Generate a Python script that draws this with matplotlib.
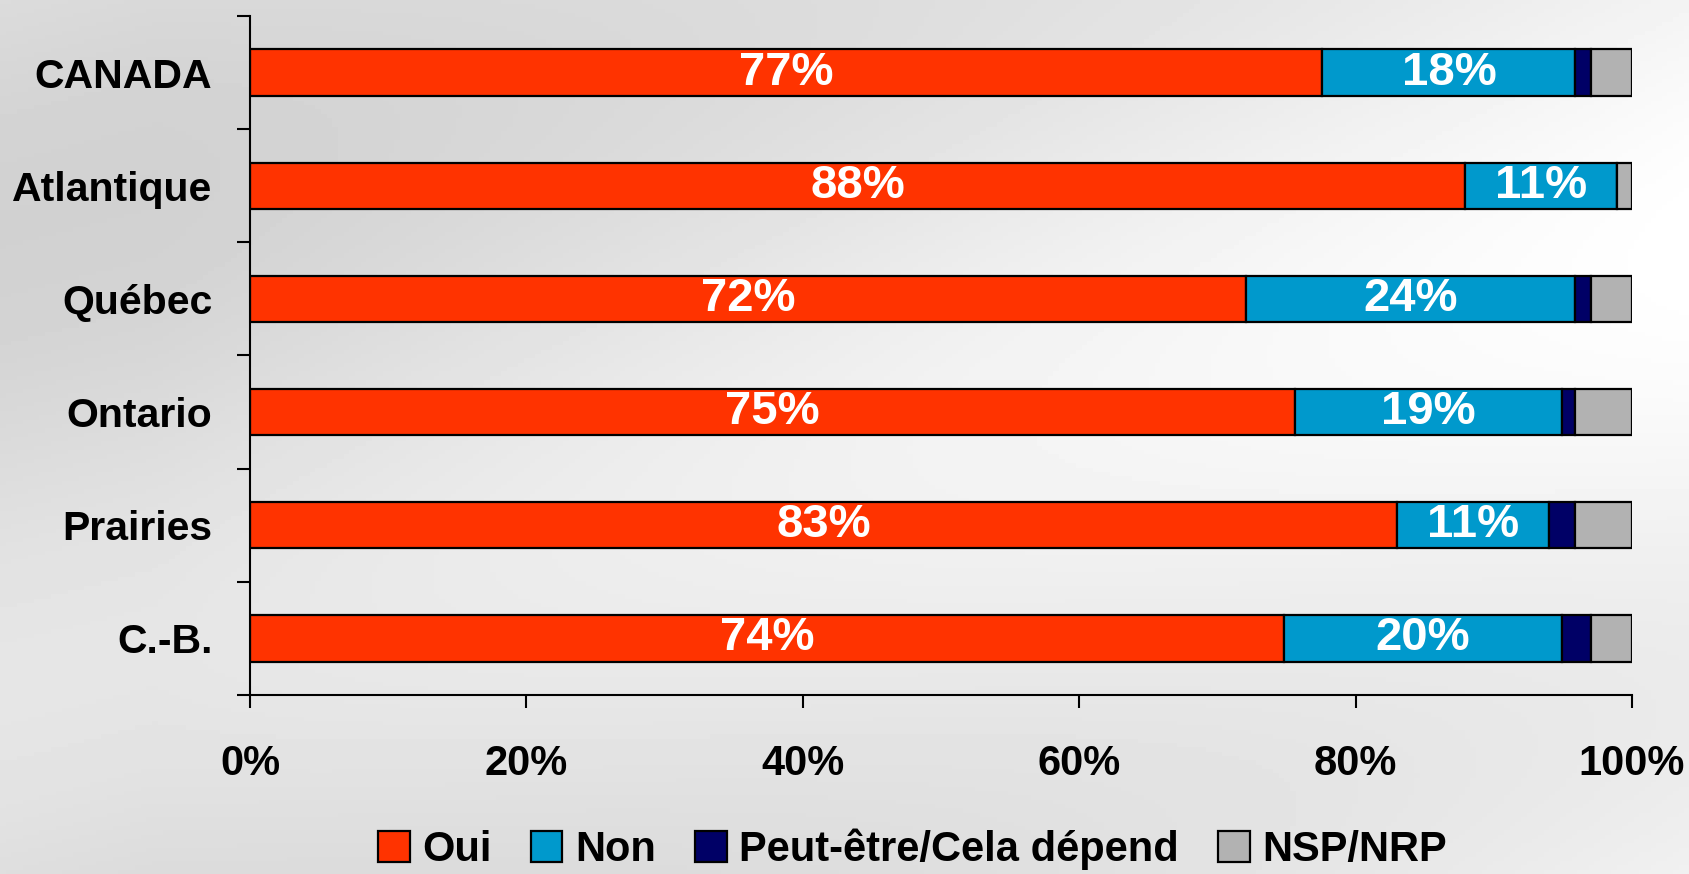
import numpy as np
import matplotlib.pyplot as plt

regions = ['CANADA', 'Atlantique', 'Québec', 'Ontario', 'Prairies', 'C.-B.']
oui = [77.6, 87.9, 72.1, 75.6, 83.0, 74.8]
non = [18.3, 11.0, 23.8, 19.3, 11.0, 20.1]
peut = [1.1, 0.0, 1.1, 1.0, 1.9, 2.1]
nsp = [3.0, 1.1, 3.0, 4.1, 4.1, 3.0]
oui_labels = ['77%', '88%', '72%', '75%', '83%', '74%']
non_labels = ['18%', '11%', '24%', '19%', '11%', '20%']
series_names = ['Oui', 'Non', 'Peut-être/Cela dépend', 'NSP/NRP']
colors = ['#FF3300', '#0099CC', '#000066', '#B2B2B2']
xticks = [0, 20, 40, 60, 80, 100]

plt.rcParams['font.family'] = ['Liberation Sans', 'DejaVu Sans']
plt.rcParams['font.weight'] = 'bold'

fig = plt.figure(figsize=(16.9, 8.74), dpi=100)
fig.patch.set_facecolor('#e6e6e6')

# soft grey backdrop
bg = fig.add_axes([0, 0, 1, 1], zorder=-10)
gx, gy = np.meshgrid(np.linspace(0, 1, 300), np.linspace(0, 1, 200))
shade = 0.86 + 0.1 * np.clip(gx * 1.1 - 0.1, 0, 1) - 0.04 * np.sin(gy * 6 + gx * 3)
bg.imshow(shade, cmap='gray', vmin=0, vmax=1, aspect='auto', extent=[0, 1, 0, 1])
bg.axis('off')

ax = fig.add_axes([0.1479, 0.2048, 0.8178, 0.7769])
ax.patch.set_alpha(0)

y = np.arange(len(regions))
left = np.zeros(len(regions))
for vals, name, c in zip([oui, non, peut, nsp], series_names, colors):
    ax.barh(y, vals, left=left, height=0.41, color=c, edgecolor='black',
            linewidth=1.6, label=name)
    left = left + np.array(vals)

oui_arr = np.array(oui)
non_arr = np.array(non)
for i in range(len(regions)):
    ax.text(oui_arr[i] / 2, y[i], oui_labels[i], color='white', fontsize=34,
            fontweight='bold', ha='center', va='center')
    ax.text(oui_arr[i] + non_arr[i] / 2, y[i], non_labels[i], color='white',
            fontsize=34, fontweight='bold', ha='center', va='center')

ax.set_xlim(0, 100)
ax.set_ylim(len(regions) - 0.5, -0.5)
ax.set_xticks(xticks)
ax.set_xticklabels([f'{t}%' for t in xticks])
ax.set_yticks(y)
ax.set_yticklabels(regions)
ax.set_yticks(np.arange(len(regions) + 1) - 0.5, minor=True)
ax.tick_params(axis='y', which='major', length=0, pad=27, labelsize=29.5)
ax.tick_params(axis='y', which='minor', length=9.5, width=1.5, direction='out')
ax.tick_params(axis='x', length=9.5, width=1.5, direction='out', pad=26, labelsize=30)
for lab in ax.get_xticklabels() + ax.get_yticklabels():
    lab.set_fontweight('bold')

for s in ['top', 'right']:
    ax.spines[s].set_visible(False)
for s in ['left', 'bottom']:
    ax.spines[s].set_linewidth(1.5)

leg = fig.legend(loc='center', bbox_to_anchor=(0.54, 0.028), ncol=4, frameon=False,
                 handlelength=0.75, handleheight=0.75,
                 handletextpad=0.3, columnspacing=0.95,
                 prop={'weight': 'bold', 'size': 30})

fig.savefig('out.png', dpi=100, facecolor=fig.get_facecolor())
